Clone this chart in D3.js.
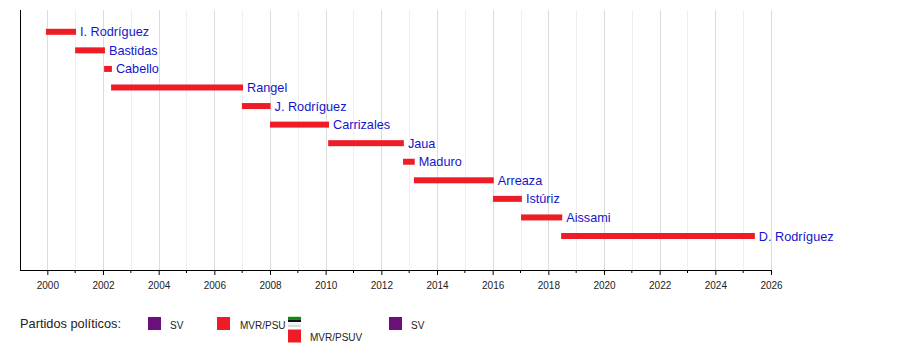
<!DOCTYPE html>
<html>
<head>
<meta charset="utf-8">
<script src="https://cdn.jsdelivr.net/npm/d3@7"></script>
<style>
  html, body { margin: 0; padding: 0; background: #fff; }
  svg { display: block; font-family: "Liberation Sans", Arial, sans-serif; }
</style>
</head>
<body>
<svg id="chart" width="900" height="350"></svg>
<script>
// Vicepresidentes ejecutivos: nombre, inicio y fin del cargo (años decimales)
const names = ["I. Rodríguez", "Bastidas", "Cabello", "Rangel", "J. Rodríguez", "Carrizales",
               "Jaua", "Maduro", "Arreaza", "Istúriz", "Aissami", "D. Rodríguez"];
const starts = [1999.95, 2001.0, 2002.04, 2002.29, 2006.99, 2008.0, 2010.09, 2012.78, 2013.17, 2016.01, 2017.02, 2018.46];
const ends   = [2001.03, 2002.07, 2002.32, 2007.03, 2008.02, 2010.12, 2012.81, 2013.2, 2016.04, 2017.05, 2018.5, 2025.42];
const parties = ["MVR/PSUV", "MVR/PSUV", "MVR/PSUV", "MVR/PSUV", "MVR/PSUV", "MVR/PSUV",
                 "MVR/PSUV", "MVR/PSUV", "MVR/PSUV", "MVR/PSUV", "MVR/PSUV", "MVR/PSUV"];
const yearDomain = [1999, 2026];
const tickYears = d3.range(2000, 2027, 2);
const legendTitle = "Partidos políticos:";
const legendLabels = ["SV", "MVR/PSU", "MVR/PSUV", "SV"];

const partyColor = { "SV": "#6b0f7d", "MVR/PSUV": "#ee1c25", "MVR/PSU": "#ee1c25" };

const svg = d3.select("#chart");
const plotTop = 10, axisY = 270;

const x = d3.scaleLinear().domain(yearDomain).range([19.5, 771]);
const y = d3.scalePoint().domain(names).range([31.8, 236]);

// grid: every year, heavier on even years
const gridYears = d3.range(2000, 2027);
svg.append("g").selectAll("line").data(gridYears).join("line")
  .attr("x1", d => Math.round(x(d)) + 0.5).attr("x2", d => Math.round(x(d)) + 0.5)
  .attr("y1", plotTop).attr("y2", axisY)
  .attr("stroke", d => d % 2 === 0 ? "#dcdcdc" : "#efefef")
  .attr("stroke-width", 1);

// bars
const rows = names.map((n, i) => ({ name: n, start: starts[i], end: ends[i], party: parties[i] }));
svg.append("g").selectAll("rect").data(rows).join("rect")
  .attr("x", d => x(d.start))
  .attr("width", d => x(d.end) - x(d.start))
  .attr("y", d => y(d.name) - 3)
  .attr("height", 6)
  .attr("fill", d => partyColor[d.party]);

// name labels
svg.append("g").selectAll("text").data(rows).join("text")
  .attr("x", d => x(d.end) + 4)
  .attr("y", d => y(d.name))
  .attr("dy", "0.36em")
  .attr("font-size", 12.7)
  .attr("fill", "#1414cc")
  .text(d => d.name);

// left frame line
svg.append("line")
  .attr("x1", 20.5).attr("x2", 20.5).attr("y1", plotTop).attr("y2", axisY)
  .attr("stroke", "#000").attr("stroke-width", 1);

// x axis with major (labelled) and minor ticks
const axisG = svg.append("g").attr("transform", `translate(0,${axisY})`);
axisG.call(d3.axisBottom(x).tickValues(tickYears).tickFormat(d3.format("d")).tickSize(5).tickSizeOuter(0))
  .call(g => g.select(".domain").attr("stroke", "#000"))
  .call(g => g.selectAll("text").attr("font-size", 10).attr("fill", "#222")
      .attr("font-family", "'Liberation Sans', Arial, sans-serif").attr("dy", "1.13em"));
axisG.selectAll(".minor").data(d3.range(2000, 2027).filter(v => v % 2 === 1)).join("line")
  .attr("class", "minor")
  .attr("x1", d => x(d)).attr("x2", d => x(d))
  .attr("y1", 0).attr("y2", 3).attr("stroke", "#000");

// legend
const lg = svg.append("g").attr("font-family", "'Liberation Sans', Arial, sans-serif");
lg.append("text").attr("x", 20).attr("y", 327.5).attr("font-size", 12.8).attr("fill", "#222").text(legendTitle);

const legendItems = [
  { label: legendLabels[0], color: partyColor["SV"], sx: 148, sy: 317, tx: 170, ty: 329 },
  { label: legendLabels[1], color: partyColor["MVR/PSU"], sx: 217, sy: 317, tx: 240, ty: 329 },
  { label: legendLabels[2], color: partyColor["MVR/PSUV"], sx: 288, sy: 329.5, tx: 310, ty: 340.5 },
  { label: legendLabels[3], color: partyColor["SV"], sx: 389, sy: 317, tx: 411, ty: 329 }
];
lg.selectAll("rect.sw").data(legendItems).join("rect").attr("class", "sw")
  .attr("x", d => d.sx).attr("y", d => d.sy).attr("width", 13).attr("height", 13)
  .attr("fill", d => d.color);
lg.selectAll("text.lb").data(legendItems).join("text").attr("class", "lb")
  .attr("x", d => d.tx).attr("y", d => d.ty).attr("font-size", 10).attr("fill", "#222")
  .text(d => d.label);

// striped flag swatch
const stripes = [
  { c: "#0a8a0a", h: 2.7 }, { c: "#111", h: 2.6 }, { c: "#f4f4f4", h: 2.6 }, { c: "#dadada", h: 2.4 }
];
let stripeY = 316.8;
stripes.forEach(s => {
  lg.append("rect").attr("x", 288).attr("y", stripeY).attr("width", 13).attr("height", s.h).attr("fill", s.c);
  stripeY += s.h;
});
</script>
</body>
</html>
